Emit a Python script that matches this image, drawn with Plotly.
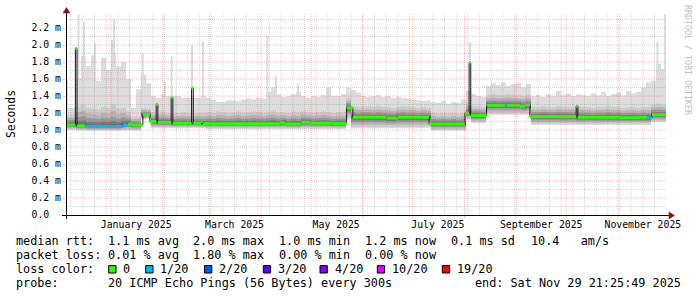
import numpy as np
import pandas as pd
import plotly.graph_objects as go

# ---------------- data ----------------
START = "2024-12-04 21:25:49"
END = "2025-11-29 21:25:49"
STEP_DAYS = 3  # smoke columns, one value every 3 days

# top of the light-grey smoke (max ping), ms
smoke_top = [
    1.26, 1.26, 1.60, 1.87, 1.75, 1.88, 1.58, 1.85, 1.71, 1.90,
    1.75, 1.80, 1.60, 1.26, 1.48, 1.65, 1.55, 1.40, 1.38, 1.42,
    1.40, 1.40, 1.40, 1.38, 1.38, 1.38, 1.38, 1.40, 1.38, 1.36,
    1.33, 1.33, 1.35, 1.35, 1.34, 1.36, 1.37, 1.36, 1.38, 1.37,
    1.45, 1.50, 1.42, 1.39, 1.40, 1.42, 1.45, 1.40, 1.38, 1.40,
    1.39, 1.41, 1.50, 1.40, 1.40, 1.42, 1.50, 1.47, 1.44, 1.40,
    1.39, 1.40, 1.41, 1.39, 1.40, 1.38, 1.39, 1.38, 1.37, 1.36,
    1.35, 1.34, 1.35, 1.33, 1.32, 1.34, 1.31, 1.33, 1.32, 1.36,
    1.46, 1.42, 1.40, 1.39, 1.52, 1.55, 1.53, 1.56, 1.52, 1.54,
    1.55, 1.50, 1.54, 1.40, 1.41, 1.39, 1.42, 1.40, 1.46, 1.41,
    1.43, 1.40, 1.42, 1.41, 1.40, 1.43, 1.41, 1.45, 1.40, 1.42,
    1.44, 1.41, 1.46, 1.43, 1.45, 1.50, 1.56, 1.58, 1.78, 1.72,
]
# top of the denser (medium grey) smoke, ms
smoke_upper = [
    1.18, 1.18, 1.28, 1.30, 1.26, 1.25, 1.24, 1.27, 1.26, 1.30,
    1.25, 1.26, 1.22, 1.16, 1.16, 1.26, 1.25, 1.21, 1.20, 1.22,
    1.20, 1.19, 1.20, 1.21, 1.20, 1.19, 1.20, 1.20, 1.21, 1.20,
    1.22, 1.21, 1.20, 1.21, 1.22, 1.20, 1.21, 1.22, 1.21, 1.20,
    1.22, 1.23, 1.21, 1.21, 1.20, 1.22, 1.21, 1.22, 1.21, 1.20,
    1.21, 1.22, 1.21, 1.20, 1.21, 1.21, 1.38, 1.28, 1.27, 1.28,
    1.28, 1.27, 1.28, 1.27, 1.27, 1.26, 1.27, 1.28, 1.27, 1.27,
    1.26, 1.27, 1.26, 1.20, 1.19, 1.20, 1.19, 1.20, 1.19, 1.20,
    1.32, 1.28, 1.28, 1.27, 1.41, 1.42, 1.41, 1.41, 1.42, 1.41,
    1.41, 1.40, 1.41, 1.27, 1.27, 1.28, 1.27, 1.27, 1.28, 1.27,
    1.27, 1.27, 1.28, 1.27, 1.27, 1.26, 1.27, 1.27, 1.28, 1.27,
    1.27, 1.26, 1.27, 1.27, 1.26, 1.27, 1.27, 1.30, 1.31, 1.30,
]
# bottom of the smoke (min ping), ms
smoke_bottom = [
    1.00, 1.00, 0.99, 0.99, 0.99, 0.99, 0.99, 0.99, 0.99, 0.99,
    0.99, 0.99, 0.99, 0.99, 0.99, 1.12, 1.13, 1.02, 1.02, 1.02,
    1.02, 1.02, 1.02, 1.02, 1.02, 1.02, 1.02, 1.02, 1.01, 1.01,
    1.01, 1.01, 1.01, 1.01, 1.01, 1.01, 1.01, 1.01, 1.01, 1.01,
    1.01, 1.01, 1.01, 1.01, 1.01, 1.01, 1.01, 1.01, 1.01, 1.01,
    1.01, 1.01, 1.01, 1.01, 1.01, 1.01, 1.12, 1.02, 1.02, 1.02,
    1.02, 1.02, 1.02, 1.02, 1.02, 1.02, 1.02, 1.02, 1.02, 1.02,
    1.02, 1.02, 1.02, 0.99, 0.99, 0.99, 0.99, 0.99, 0.99, 0.99,
    1.12, 1.08, 1.08, 1.08, 1.18, 1.18, 1.18, 1.18, 1.18, 1.18,
    1.18, 1.18, 1.18, 1.06, 1.06, 1.06, 1.06, 1.06, 1.06, 1.06,
    1.06, 1.06, 1.06, 1.06, 1.06, 1.06, 1.06, 1.06, 1.06, 1.06,
    1.06, 1.06, 1.06, 1.06, 1.06, 1.06, 1.06, 1.09, 1.09, 1.09,
]

# median rtt: value holds from each date until the next one
median_dates = [
    "2024-12-04 21:25", "2024-12-10 12:00", "2024-12-11 12:00", "2024-12-16 06:00",
    "2025-01-08 00:00", "2025-01-11 00:00", "2025-01-13 12:00", "2025-01-20 00:00",
    "2025-01-24 06:00", "2025-01-28 00:00", "2025-01-29 00:00", "2025-02-06 00:00",
    "2025-02-07 00:00", "2025-02-18 06:00", "2025-02-19 06:00", "2025-02-24 00:00",
    "2025-02-25 00:00", "2025-04-12 06:00", "2025-04-15 06:00", "2025-04-25 00:00",
    "2025-04-30 06:00", "2025-05-14 00:00", "2025-05-22 06:00", "2025-05-26 00:00",
    "2025-06-15 06:00", "2025-06-22 00:00", "2025-07-10 18:00", "2025-08-01 06:00",
    "2025-08-03 18:00", "2025-08-04 18:00", "2025-08-14 06:00", "2025-08-25 06:00",
    "2025-08-26 06:00", "2025-09-03 06:00", "2025-09-06 06:00", "2025-09-09 06:00",
    "2025-10-07 00:00", "2025-10-08 00:00", "2025-11-02 06:00", "2025-11-14 06:00",
    "2025-11-18 12:00", "2025-11-21 12:00",
]
median_vals = [
    1.06, 1.96, 1.05, 1.04,
    1.06, 1.07, 1.06, 1.18,
    1.10, 1.30, 1.09, 1.38,
    1.08, 1.49, 1.08, 1.10,
    1.075, 1.085, 1.07, 1.09,
    1.08, 1.075, 1.26, 1.15,
    1.14, 1.15, 1.07, 1.20,
    1.79, 1.17, 1.29, 1.29,
    1.29, 1.28, 1.295, 1.16,
    1.28, 1.15, 1.145, 1.15,
    1.145, 1.18,
]
# index into loss_labels (0 -> 0/20 lost, 1 -> 1/20 lost)
median_loss = [
    0, 0, 0, 1,
    1, 0, 0, 0,
    0, 0, 0, 0,
    0, 0, 0, 0,
    0, 0, 0, 0,
    0, 0, 0, 0,
    0, 0, 0, 0,
    0, 0, 0, 1,
    0, 0, 0, 0,
    0, 0, 0, 0,
    1, 0,
]

# single narrow light-grey smoke spikes (max ping)
spike_dates = [
    "2024-12-05 12:00", "2024-12-12 10:00", "2024-12-15 17:00", "2024-12-22 07:00",
    "2025-01-01 12:00", "2025-01-02 17:00", "2025-01-20 00:00", "2025-02-02 05:00",
    "2025-02-06 08:00", "2025-02-18 12:00", "2025-02-25 02:00", "2025-04-04 17:00",
    "2025-04-09 22:00", "2025-04-23 02:00", "2025-08-04 07:00", "2025-11-24 19:00",
    "2025-11-29 07:00",
]
spike_tops = [
    1.59, 2.36, 2.27, 2.02,
    2.06, 2.30, 1.90, 1.57,
    1.87, 2.00, 2.04, 2.11,
    1.63, 1.55, 2.03, 2.04,
    2.36,
]

month_label_dates = ["2025-01-16", "2025-03-16", "2025-05-16",
                     "2025-07-16", "2025-09-16", "2025-11-16"]
month_labels = ["January 2025", "March 2025", "May 2025",
                "July 2025", "September 2025", "November 2025"]

y_tickvals = [0.0, 0.2, 0.4, 0.6, 0.8, 1.0, 1.2, 1.4, 1.6, 1.8, 2.0, 2.2]
y_ticktext = ["0.0  ", "0.2 m", "0.4 m", "0.6 m", "0.8 m", "1.0 m", "1.2 m",
              "1.4 m", "1.6 m", "1.8 m", "2.0 m", "2.2 m"]

loss_labels = ["0", "1/20", "2/20", "3/20", "4/20", "10/20", "19/20"]
loss_colors = ["#26ff00", "#00b8ff", "#0059ff", "#5e00ff", "#7e00ff", "#dd00ff", "#ff0000"]

rtt_items = ["1.1 ms avg", "2.0 ms max", "1.0 ms min", "1.2 ms now", "0.1 ms sd", "10.4   am/s"]
loss_items = ["0.01 % avg", "1.80 % max", "0.00 % min", "0.00 % now"]
probe_text = "20 ICMP Echo Pings (56 Bytes) every 300s"
end_text = "end: Sat Nov 29 21:25:49 2025"

# ---------------- layout geometry / styles ----------------
W, H = 697, 297
ML, MR, MT, MB = 66, 31, 13, 82
PW, PH = W - ML - MR, H - MT - MB
Y_MAX = PH / 85.0          # 0.1 ms per 8.5 px
MONO = "DejaVu Sans Mono"
LEG_SIZE = 11.8
AX_SIZE = 9.8
ITEM_PX = [107.3, 192.9, 279.1, 364.4, 451.1, 530.2]
LOSS_BOX_PX = [108.7, 145.7, 204.5, 263.3, 320.0, 377.3, 442.3]
ROW_PY = [241.3, 255.3, 269.2, 283.2]
SMOKE_SHADES = [  # (fraction above median, fraction below median, colour)
    (1.00, 0.85, "#cbcbcb"),
    (0.70, 0.65, "#b3b3b3"),
    (0.45, 0.45, "#979797"),
    (0.25, 0.28, "#787878"),
    (0.10, 0.12, "#585858"),
]


def ppx(px):
    return (px - ML) / PW


def ppy(py):
    return (MT + PH - py) / PH


# ---------------- derived series ----------------
edges = pd.date_range(START, periods=len(smoke_top) + 1, freq=f"{STEP_DAYS}D")
mids = edges[:-1] + pd.Timedelta(hours=STEP_DAYS * 12)
md = pd.to_datetime(median_dates)
mv = np.array(median_vals)
med_col = mv[np.searchsorted(md.values, mids.values, side="right") - 1]

top = np.array(smoke_top)
up = np.array(smoke_upper)
bot = np.array(smoke_bottom)


def stepy(a):
    return np.append(a, a[-1])


fig = go.Figure()

# narrow spikes of the light smoke
sx, sy = [], []
sd = pd.to_datetime(spike_dates)
for d, t in zip(sd, spike_tops):
    base = mv[np.searchsorted(md.values, np.datetime64(d), side="right") - 1]
    sx += [d, d, None]
    sy += [base, t, None]
fig.add_trace(go.Scatter(x=sx, y=sy, mode="lines", line=dict(color="#dddddd", width=2),
                         hoverinfo="skip"))

layers = [(bot, top, "#dddddd")]
for f, g, col in SMOKE_SHADES:
    layers.append((med_col - g * (med_col - bot), med_col + f * (up - med_col), col))

for lo, hi, col in layers:
    fig.add_trace(go.Scatter(x=edges, y=stepy(lo), mode="lines", line=dict(width=0, shape="hv"),
                             hoverinfo="skip"))
    fig.add_trace(go.Scatter(x=edges, y=stepy(hi), mode="lines", line=dict(width=0, shape="hv"),
                             fill="tonexty", fillcolor=col, hoverinfo="skip"))

# median (dark connecting line)
mx = list(md) + [pd.Timestamp(END)]
fig.add_trace(go.Scatter(x=mx, y=list(mv) + [mv[-1]], mode="lines",
                         line=dict(color="#111111", width=1, shape="hv"), hoverinfo="skip"))

# median coloured by loss
for li, col in enumerate(loss_colors):
    xs, ys = [], []
    for i in range(len(mv)):
        if median_loss[i] == li:
            xs += [mx[i], mx[i + 1], None]
            ys += [mv[i], mv[i], None]
    if xs:
        fig.add_trace(go.Scatter(x=xs, y=ys, mode="lines", line=dict(color=col, width=3),
                                 hoverinfo="skip"))

shapes = []
# grid (drawn over the smoke, like rrdtool)
minor_col = "rgba(140,140,140,0.36)"
major_col = "rgba(225,90,90,0.38)"
for d in pd.date_range("2024-12-08", END, freq="7D"):
    shapes.append(dict(type="line", xref="x", yref="paper", x0=d, x1=d, y0=0, y1=1,
                       line=dict(color=minor_col, width=1, dash="1px,1px"), layer="above"))
for v in np.arange(1, 24, 2) / 10.0:
    shapes.append(dict(type="line", xref="paper", yref="y", x0=0, x1=1, y0=v, y1=v,
                       line=dict(color=minor_col, width=1, dash="1px,1px"), layer="above"))
for d in pd.date_range("2025-01-01", END, freq="MS"):
    shapes.append(dict(type="line", xref="x", yref="paper", x0=d, x1=d, y0=0, y1=1,
                       line=dict(color=major_col, width=1, dash="1px,1px"), layer="above"))
    shapes.append(dict(type="line", xref="x", yref="paper", x0=d, x1=d, y0=ppy(215.5), y1=ppy(218),
                       line=dict(color=major_col, width=1), layer="above"))
for v in y_tickvals[1:]:
    shapes.append(dict(type="line", xref="paper", yref="y", x0=0, x1=1, y0=v, y1=v,
                       line=dict(color=major_col, width=1, dash="1px,1px"), layer="above"))

# axes with arrows
shapes.append(dict(type="line", xref="paper", yref="paper", x0=ppx(62), x1=ppx(670),
                   y0=ppy(215.5), y1=ppy(215.5), line=dict(color="#000000", width=1), layer="above"))
shapes.append(dict(type="line", xref="paper", yref="paper", x0=ppx(66.5), x1=ppx(66.5),
                   y0=ppy(219), y1=ppy(11), line=dict(color="#000000", width=1), layer="above"))
arrow_col = "#7f1414"
shapes.append(dict(type="path", xref="paper", yref="paper", layer="above",
                   path=f"M {ppx(669)},{ppy(212)} L {ppx(669)},{ppy(219)} L {ppx(674.5)},{ppy(215.5)} Z",
                   fillcolor=arrow_col, line=dict(color=arrow_col, width=0.5)))
shapes.append(dict(type="path", xref="paper", yref="paper", layer="above",
                   path=f"M {ppx(63)},{ppy(13)} L {ppx(70)},{ppy(13)} L {ppx(66.5)},{ppy(7.5)} Z",
                   fillcolor=arrow_col, line=dict(color=arrow_col, width=0.5)))

# loss colour boxes
for bx, col in zip(LOSS_BOX_PX, loss_colors):
    shapes.append(dict(type="rect", xref="paper", yref="paper",
                       x0=ppx(bx), x1=ppx(bx + 7.3), y0=ppy(265.6), y1=ppy(273),
                       fillcolor=col, line=dict(color="#000000", width=1)))

annotations = []


def text(px, py, s, size=LEG_SIZE, anchor="left", color="#000000", angle=0):
    annotations.append(dict(x=ppx(px), y=ppy(py), xref="paper", yref="paper",
                            text=s.replace(" ", "\u00a0"), showarrow=False,
                            xanchor=anchor, yanchor="middle", borderpad=0, textangle=angle,
                            font=dict(family=MONO, size=size, color=color)))


text(15.3, ROW_PY[0], "median rtt:")
for px, s in zip(ITEM_PX, rtt_items):
    text(px - 0.7, ROW_PY[0], s)
text(15.3, ROW_PY[1], "packet loss:")
for px, s in zip(ITEM_PX, loss_items):
    text(px - 0.7, ROW_PY[1], s)
text(15.3, ROW_PY[2], "loss color:")
for bx, s in zip(LOSS_BOX_PX, loss_labels):
    text(bx + 13.6, ROW_PY[2], s)
text(15.3, ROW_PY[3], "probe:")
text(ITEM_PX[0] - 0.7, ROW_PY[3], probe_text)
text(681.5, ROW_PY[3], end_text, anchor="right")
text(11, 114, "Seconds", size=11.4, anchor="center", angle=-90)
text(688, 60, "RRDTOOL / TOBI OETIKER", size=8.3, anchor="center", color="#c0c0c0", angle=90)

fig.update_layout(
    width=W, height=H,
    margin=dict(l=ML, r=MR, t=MT, b=MB, pad=0),
    paper_bgcolor="#ffffff", plot_bgcolor="#ffffff",
    showlegend=False, hovermode=False,
    shapes=shapes, annotations=annotations,
    xaxis=dict(range=[START, END], showgrid=False, zeroline=False, showline=False,
               tickmode="array", tickvals=month_label_dates, ticktext=month_labels,
               ticks="", ticklabelstandoff=2,
               tickfont=dict(family=MONO, size=AX_SIZE, color="#000000")),
    yaxis=dict(range=[0, Y_MAX], showgrid=False, zeroline=False, showline=False,
               tickmode="array", tickvals=y_tickvals,
               ticktext=[t.replace(" ", "\u00a0") for t in y_ticktext],
               ticks="outside", ticklen=2, tickcolor=major_col,
               tickfont=dict(family=MONO, size=AX_SIZE, color="#000000")),
)

fig.write_html("out.html")
